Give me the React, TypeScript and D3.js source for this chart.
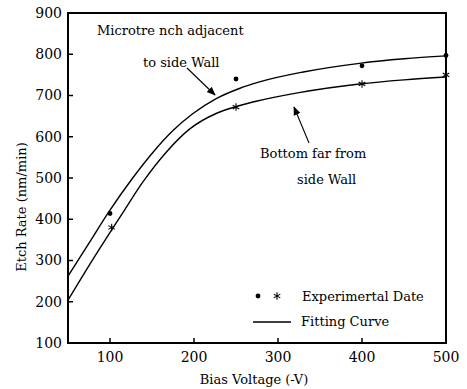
import * as d3 from "d3";

// values
const topCurveV = [50, 75, 98, 127, 151, 175, 198, 227, 254, 278, 330, 397, 450, 500];
const topCurveR = [262, 342, 416, 500, 562, 615, 655, 693, 717, 733, 757, 778, 789, 796];
const botCurveV = [50, 80, 114, 139, 168, 195, 227, 250, 274, 325, 397, 450, 500];
const botCurveR = [204, 304, 412, 490, 565, 619, 657, 673, 686, 707, 728, 738, 745];

const topDataV = [100, 250, 400, 500];
const topDataR = [414, 740, 772, 797];
const botDataV = [102, 250, 400, 500];
const botDataR = [380, 672, 728, 750];

const xTicks = [100, 200, 300, 400, 500];
const yTicks = [100, 200, 300, 400, 500, 600, 700, 800, 900];

const width = 467;
const height = 389;
const margin = { top: 13, right: 21, bottom: 46, left: 68 };
const font = "\"DejaVu Serif\", serif";

export default function App() {
  const x = d3.scaleLinear().domain([50, 500]).range([margin.left, width - margin.right]);
  const y = d3.scaleLinear().domain([100, 900]).range([height - margin.bottom, margin.top]);

  const line = d3
    .line<[number, number]>()
    .x((d) => x(d[0]))
    .y((d) => y(d[1]))
    .curve(d3.curveMonotoneX);

  const topPts = topCurveV.map((v, i) => [v, topCurveR[i]] as [number, number]);
  const botPts = botCurveV.map((v, i) => [v, botCurveR[i]] as [number, number]);
  const star = d3.symbol(d3.symbolAsterisk, 40)();

  const x0 = margin.left;
  const x1 = width - margin.right;
  const y0 = height - margin.bottom;
  const y1 = margin.top;
  const txt = { fontFamily: font, fontSize: 14 };
  const note = { fontFamily: font, fontSize: 13 };

  return (
    <svg
      width={width}
      height={height}
      style={{ position: "fixed", left: 0, top: 0, background: "#fff" }}
    >
      <defs>
        <marker id="ah" viewBox="0 0 10 10" refX="9" refY="5" markerWidth="9" markerHeight="9" orient="auto-start-reverse" markerUnits="userSpaceOnUse">
          <path d="M0,1 L10,5 L0,9 Z" fill="#000" />
        </marker>
      </defs>

      {/* curves */}
      <path d={line(topPts) ?? ""} fill="none" stroke="#000" strokeWidth={1.4} />
      <path d={line(botPts) ?? ""} fill="none" stroke="#000" strokeWidth={1.4} />

      {/* data markers */}
      {topDataV.map((v, i) => (
        <circle key={"t" + v} cx={x(v)} cy={y(topDataR[i])} r={2.4} fill="#000" />
      ))}
      {botDataV.map((v, i) => (
        <path key={"b" + v} d={star ?? ""} transform={`translate(${x(v)},${y(botDataR[i])})`} fill="none" stroke="#000" strokeWidth={1.1} />
      ))}

      {/* frame */}
      <rect x={x0} y={y1} width={x1 - x0} height={y0 - y1} fill="none" stroke="#000" strokeWidth={2} />

      {/* y ticks */}
      {yTicks.map((t) => (
        <g key={"y" + t}>
          <line x1={x0} x2={x0 + 5} y1={y(t)} y2={y(t)} stroke="#000" strokeWidth={1.5} />
          <text x={x0 - 6} y={y(t)} dy="0.35em" textAnchor="end" style={txt}>
            {t}
          </text>
        </g>
      ))}

      {/* x ticks */}
      {xTicks.map((t) => (
        <g key={"x" + t}>
          <line x1={x(t)} x2={x(t)} y1={y0} y2={y0 - 5} stroke="#000" strokeWidth={1.5} />
          <text x={x(t)} y={y0 + 19} textAnchor="middle" style={txt}>
            {t}
          </text>
        </g>
      ))}

      {/* axis titles */}
      <text x={254} y={384} textAnchor="middle" style={note}>
        Bias Voltage (-V)
      </text>
      <text transform="translate(26,207) rotate(-90)" textAnchor="middle" style={note}>
        Etch Rate (nm/min)
      </text>

      {/* annotations */}
      <text x={97} y={35} style={note}>Microtre nch adjacent</text>
      <text x={143} y={67} style={note}>to side Wall</text>
      <line x1={187} y1={68} x2={215} y2={95} stroke="#000" strokeWidth={1.1} markerEnd="url(#ah)" />

      <text x={260} y={158} style={note}>Bottom far from</text>
      <text x={297} y={184} style={note}>side Wall</text>
      <line x1={309} y1={143} x2={294} y2={107} stroke="#000" strokeWidth={1.1} markerEnd="url(#ah)" />

      {/* legend */}
      <circle cx={258} cy={296} r={2.4} fill="#000" />
      <path d={star ?? ""} transform="translate(277,296)" fill="none" stroke="#000" strokeWidth={1.1} />
      <text x={302} y={301} style={note}>Experimertal Date</text>
      <line x1={253} x2={291} y1={322} y2={322} stroke="#000" strokeWidth={1.4} />
      <text x={301} y={326} style={note}>Fitting Curve</text>
    </svg>
  );
}
